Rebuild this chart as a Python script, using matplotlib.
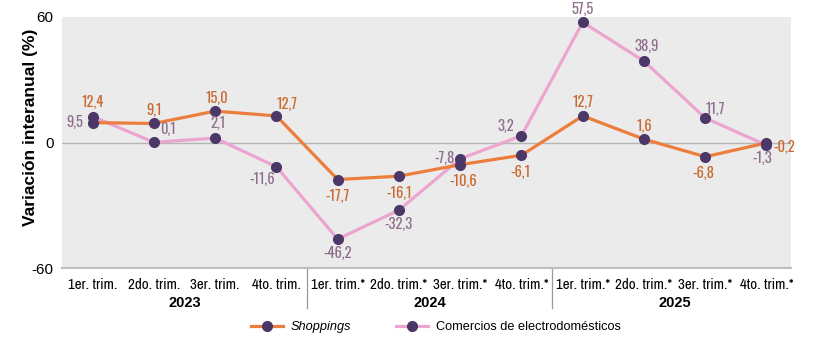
import numpy as np
import matplotlib
matplotlib.use("Agg")
from matplotlib import pyplot as plt

quarters = ["1er. trim.", "2do. trim.", "3er. trim.", "4to. trim.",
            "1er. trim.*", "2do. trim.*", "3er. trim.*", "4to. trim.*",
            "1er. trim.*", "2do. trim.*", "3er. trim.*", "4to. trim.*"]
years = ["2023", "2024", "2025"]
shoppings = [9.5, 9.1, 15.0, 12.7, -17.7, -16.1, -10.6, -6.1, 12.7, 1.6, -6.8, -0.2]
electro = [12.4, 0.1, 2.1, -11.6, -46.2, -32.3, -7.8, 3.2, 57.5, 38.9, 11.7, -1.3]
# label texts as printed in the original (first two are swapped there)
shop_labels = ["12,4", "9,1", "15,0", "12,7", "-17,7", "-16,1", "-10,6", "-6,1", "12,7", "1,6", "-6,8", "-0,2"]
elec_labels = ["9,5", "0,1", "2,1", "-11,6", "-46,2", "-32,3", "-7,8", "3,2", "57,5", "38,9", "11,7", "-1,3"]

orange = "#EB7E3C"
pink = "#EBA5CF"
dot = "#4B3868"
orange_txt = "#C9692F"
pink_txt = "#8F6E8C"
num_font = ["Oswald", "Barlow Condensed", "Roboto Condensed", "DejaVu Sans"]
narrow_font = ["Liberation Sans Narrow", "Archivo Narrow", "PT Sans Narrow", "Liberation Sans", "DejaVu Sans"]

plt.rcParams["font.family"] = ["Liberation Sans", "DejaVu Sans"]

fig = plt.figure(figsize=(8.21, 3.51), dpi=100)
ax = fig.add_axes([62 / 821, 1 - 268 / 351, (791 - 62) / 821, (268 - 17) / 351])
ax.set_facecolor("#EBEBEB")

x = np.arange(len(quarters))
ax.axhline(0, color="#B5B5B5", lw=1, zorder=1)
ax.plot(x, shoppings, color=orange, lw=2.3, marker="o", ms=7,
        mfc=dot, mec=dot, zorder=3, label="Shoppings")
ax.plot(x, electro, color=pink, lw=2.3, marker="o", ms=7,
        mfc=dot, mec=dot, zorder=2, label="Comercios de electrodomésticos")

# offsets in points (dx, dy, ha, va)
shop_off = [(0, 5, "center", "bottom"), (0, 4, "center", "bottom"), (1, 4, "center", "bottom"),
            (8, 3, "center", "bottom"), (0, -7, "center", "top"), (0, -7, "center", "top"),
            (2, -7, "center", "top"), (-1, -7, "center", "top"), (0, 4, "center", "bottom"),
            (0, 4, "center", "bottom"), (-1, -7, "center", "top"), (5, -3, "left", "center")]
elec_off = [(-7, 0, "right", "center"), (10, 4, "center", "bottom"), (2, 5, "center", "bottom"),
            (-10, -4, "center", "top"), (0, -5, "center", "top"), (0, -5, "center", "top"),
            (-4, 0, "right", "center"), (-5, 1, "right", "bottom"), (0, 4, "center", "bottom"),
            (2, 5, "center", "bottom"), (7, 1, "center", "bottom"), (-3, -4, "center", "top")]

for i in range(len(x)):
    dx, dy, ha, va = shop_off[i]
    ax.annotate(shop_labels[i], (x[i], shoppings[i] if i else electro[i]), xytext=(dx, dy),
                textcoords="offset points", ha=ha, va=va, fontsize=10.5,
                color=orange_txt, family=num_font, fontweight="normal")
    dx, dy, ha, va = elec_off[i]
    ax.annotate(elec_labels[i], (x[i], electro[i] if i else shoppings[i]), xytext=(dx, dy),
                textcoords="offset points", ha=ha, va=va, fontsize=10.5,
                color=pink_txt, family=num_font, fontweight="light")

ax.set_xlim(-0.5, 11.4)
ax.set_ylim(-60, 60)
ax.set_yticks([-60, 0, 60])
ax.set_yticklabels(["-60", "0", "60"], fontsize=11)
ax.set_xticks(x)
ax.set_xticklabels(quarters, fontsize=10.8, family=narrow_font)
ax.tick_params(length=0, pad=7)
ax.tick_params(axis="y", pad=6)
for s in ["top", "right", "left"]:
    ax.spines[s].set_visible(False)
ax.spines["bottom"].set_color("#BDBDBD")
ax.spines["bottom"].set_linewidth(1.5)
ax.set_ylabel("Variación interanual (%)", fontsize=12.5, fontweight="bold")
ax.yaxis.set_label_coords(-0.033, 0.56)

for k, yr in enumerate(years):
    ax.text(4 * k + 1.5, -0.14, yr, transform=ax.get_xaxis_transform(), ha="center",
            va="center", fontsize=10.5, fontweight="bold")
for sep in [3.5, 7.5]:
    ax.plot([sep, sep], [0, -0.16], transform=ax.get_xaxis_transform(), color="#999999",
            lw=0.9, clip_on=False)

leg = fig.legend(loc="center", bbox_to_anchor=(436 / 821, 1 - 327 / 351), ncol=2,
                 frameon=False, prop={"size": 9.2}, handlelength=2.5,
                 handletextpad=0.6, columnspacing=3.5)
leg.get_texts()[0].set_style("italic")

fig.savefig("out.png", dpi=100)
